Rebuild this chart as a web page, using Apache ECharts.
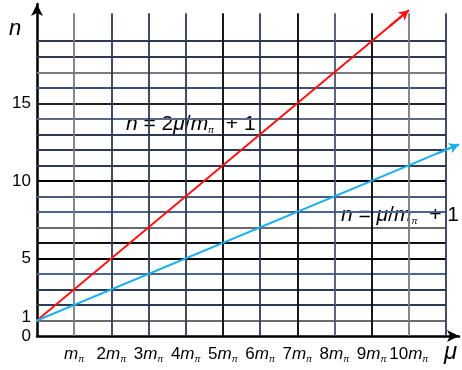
<!DOCTYPE html>
<html>
<head>
<meta charset="utf-8">
<script src="https://cdn.jsdelivr.net/npm/echarts@6/dist/echarts.min.js"></script>
<style>html,body{margin:0;padding:0;background:#fff}#c{width:462px;height:370px}</style>
</head>
<body>
<div id="c"></div>
<script>
// ---- data ----
const xTickValues = [1, 2, 3, 4, 5, 6, 7, 8, 9, 10];
const yTickLabels = [0, 1, 5, 10, 15];
const redLine = [[-0.25, 0.5], [10, 21]];          // n = 2μ/mπ + 1
const blueLine = [[-0.37, 0.63], [11.35, 12.35]];  // n = μ/mπ + 1
const hGridN = [1,2,3,4,5,6,7,8,9,10,11,12,13,14,15,16,17,18,19];
const hGridColors = ['#6b6b6b','#2e3a55','#2e3a55','#4a6496','#000000','#111111','#6a6a6a','#4a6496','#4a5a78','#000000','#2e3a55','#2e3a55','#2e3a55','#5a6a88','#222222','#3c5080','#7a7a80','#2e3a55','#2e3a55'];
const vGridMu = [1,2,3,4,5,6,7,8,9,10,11];
const vGridColors = ['#7a7a7a','#2e3a55','#2e3a55','#2e3a55','#000000','#2e3a55','#000000','#4a5570','#000000','#7a7a7a','#2e3a55'];
const gridMuMax = 11, gridNMax = 20.8;

const FONT = 'Liberation Sans, Arial, sans-serif';
const lerp = (a, b, t) => [a[0] + (b[0]-a[0])*t, a[1] + (b[1]-a[1])*t];

const gridLines = [];
hGridN.forEach((n, i) => gridLines.push([{coord:[0, n], lineStyle:{color:hGridColors[i]}}, {coord:[gridMuMax, n]}]));
vGridMu.forEach((m, i) => gridLines.push([{coord:[m, 0], lineStyle:{color:vGridColors[i]}}, {coord:[m, gridNMax]}]));

const chart = echarts.init(document.getElementById('c'), null, {renderer:'canvas'});
const lineSeries = (data, color) => ({
  type:'line', data, symbol:'none', clip:false, z:5, silent:true, animation:false,
  lineStyle:{color, width:2},
  markLine:{silent:true, animation:false, symbol:['none','arrow'], symbolSize:[8,10], label:{show:false},
    lineStyle:{color, width:2, type:'solid'},
    data:[[{coord:lerp(data[0], data[1], 0.95)}, {coord:data[1]}]]}
});
const eqRich = {
  i:{fontStyle:'italic', fontSize:21, fontFamily:FONT, color:'#000'},
  p:{fontStyle:'italic', fontSize:9, fontFamily:FONT, color:'#000', padding:[12,0,0,0]}
};

chart.setOption({
  animation:false,
  grid:{left:37, right:0, top:4, bottom:34, containLabel:false},
  xAxis:{type:'value', min:0, max:11.35, interval:1,
    axisLine:{show:true, onZero:false, lineStyle:{color:'#000', width:2.5}, symbol:['none','arrow'], symbolSize:[9,12]},
    axisTick:{show:false}, splitLine:{show:false},
    axisLabel:{margin:9, color:'#000', fontFamily:FONT, fontSize:17,
      formatter:v => xTickValues.includes(v) ? (v===1 ? '' : v) + '{m|m}{p|π}' : '',
      rich:{m:{fontFamily:FONT, fontSize:17, fontStyle:'italic', color:'#000'},
            p:{fontFamily:FONT, fontSize:9, fontStyle:'italic', color:'#000', padding:[10,0,0,0]}}}
  },
  yAxis:{type:'value', min:0, max:21.4, interval:1,
    axisLine:{show:true, onZero:false, lineStyle:{color:'#000', width:2.5}, symbol:['none','arrow'], symbolSize:[9,12]},
    axisTick:{show:false}, splitLine:{show:false},
    axisLabel:{margin:6, color:'#000', fontFamily:FONT, fontSize:17, showMinLabel:true,
      formatter:v => yTickLabels.includes(v) ? (v === 1 ? '{one|1}' : String(v)) : '',
      rich:{one:{fontFamily:FONT, fontSize:17, color:'#000', padding:[0,0,7,0]}}}
  },
  graphic:[
    {type:'text', left:9, top:18, style:{text:'n', font:'italic 22px ' + FONT, fill:'#000'}},
    {type:'text', left:444, top:340, style:{text:'μ', font:'italic 24px ' + FONT, fill:'#000'}},
    {type:'text', left:126, top:114, style:{
      text:'{i|n} = 2{i|μ}/{i|m}{p|π}  + 1', fill:'#000', font:'21px ' + FONT, rich:eqRich}},
    {type:'text', left:341, top:205, style:{
      text:'{i|n} = {i|μ}/{i|m}{p|π}  + 1', fill:'#000', font:'21px ' + FONT, rich:eqRich}}
  ],
  series:[
    {type:'line', data:[], z:1, silent:true, animation:false,
      markLine:{silent:true, animation:false, symbol:['none','none'], label:{show:false},
        lineStyle:{width:1.8, type:'solid'}, data:gridLines}},
    lineSeries(redLine, '#ff1010'),
    lineSeries(blueLine, '#18b0ec')
  ]
});
</script>
</body>
</html>
